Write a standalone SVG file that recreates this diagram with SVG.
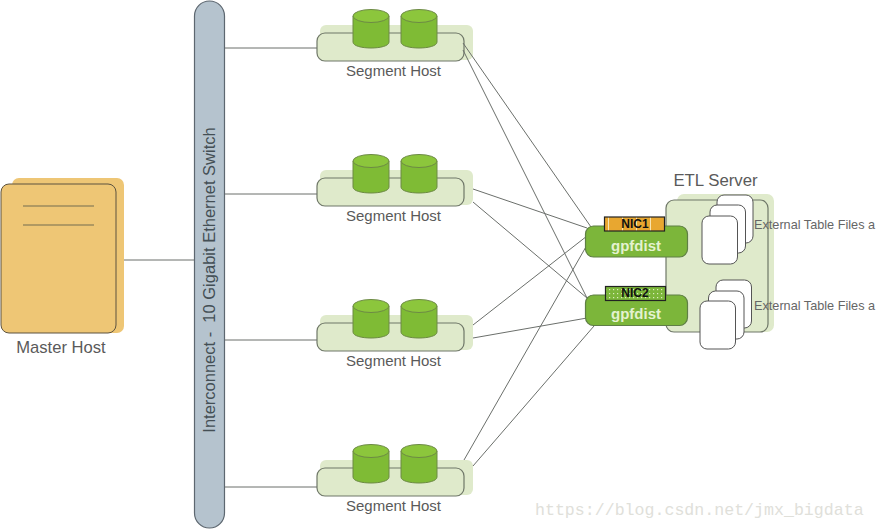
<svg xmlns="http://www.w3.org/2000/svg" width="876" height="529" viewBox="0 0 876 529">
<style>
text{font-family:"Liberation Sans",Arial,sans-serif}
.lbl{fill:#5a5a5a;font-size:15px;text-anchor:middle}
.ln{stroke:#6b6f6b;stroke-width:1;fill:none}
.hb{fill:#dfeacb}
.hf{fill:#dfeacb;stroke:#6f7768;stroke-width:1.2}
.cy{fill:#7fbb35;stroke:#6d8a45;stroke-width:1}
.ct{fill:#8cc63c;stroke:#6d8a45;stroke-width:1}
.gp{fill:#7cb63a;stroke:#5f7f45;stroke-width:1.2}
.gt{fill:#e4f2cf;font-size:15px;font-weight:bold;text-anchor:middle}
.nt{fill:#111;font-size:12px;font-weight:bold;text-anchor:middle}
.fl{fill:#fff;stroke:#555;stroke-width:1}
.ext{fill:#666;font-size:12.7px}
</style>
<defs>
<pattern id="p1" width="14" height="14" patternUnits="userSpaceOnUse"><rect width="14" height="14" fill="#e8a730"/><rect x="6" width="1" height="14" fill="#f8e4b0"/></pattern>
<pattern id="p2" width="4" height="4" patternUnits="userSpaceOnUse"><rect width="4" height="4" fill="#7cb63a"/><rect x="1" y="1" width="1.2" height="1.2" fill="#dcedc0"/></pattern>
<g id="host">
<rect class="hb" x="320" y="25" width="153" height="35" rx="6"/>
<rect class="hf" x="317" y="33" width="147" height="28" rx="8"/>
<path class="cy" d="M353 16V42C353 50 389 50 389 42V16Z"/>
<ellipse class="ct" cx="371" cy="16" rx="18" ry="6.500"/>
<path class="cy" d="M401 16V42C401 50 437 50 437 42V16Z"/>
<ellipse class="ct" cx="419" cy="16" rx="18" ry="6.500"/>
</g>
</defs>
<rect width="876" height="529" fill="#fff"/>
<g id="master">
<rect x="12" y="178" width="112" height="155" rx="7" fill="#eec675"/>
<rect x="1" y="184" width="115" height="149" rx="8" fill="#eec675" stroke="#5c5340" stroke-width="1"/>
<path d="M23 206H94M23 225H94" stroke="#9c8a5c" stroke-width="1.500" fill="none"/>
<text x="61" y="353" fill="#5a5a5a" font-size="16.600" text-anchor="middle">Master Host</text>
</g>
<g id="switch">
<rect x="194.500" y="1" width="30" height="527" rx="15" fill="#b5c3ce" stroke="#5d6770" stroke-width="1.200"/>
<text transform="translate(215,280) rotate(-90)" fill="#444f55" font-size="16.500" text-anchor="middle" xml:space="preserve">Interconnect -  10 Gigabit Ethernet Switch</text>
</g>
<g id="segment-host-1"><use href="#host"/><text class="lbl" x="393.500" y="76">Segment Host</text></g>
<g id="segment-host-2"><use href="#host" y="145"/><text class="lbl" x="393.500" y="221">Segment Host</text></g>
<g id="segment-host-3"><use href="#host" y="290"/><text class="lbl" x="393.500" y="366">Segment Host</text></g>
<g id="segment-host-4"><use href="#host" y="435"/><text class="lbl" x="393.500" y="511">Segment Host</text></g>
<g id="connectors" class="ln">
<path d="M124 260H194"/>
<path d="M225 48H317M225 194H317M225 340H317M225 487H317"/>
<path d="M463 43L591 227M463 50L588 300"/>
<path d="M473 189L587 228M473 202L587 298"/>
<path d="M473 325L587 236M473 338L587 318"/>
<path d="M464 460L587 245M473 466L594 326"/>
<path d="M688 236H702M688 314H700"/>
</g>
<g id="etl-server">
<text x="715.500" y="186" fill="#5a5a5a" font-size="16.800" text-anchor="middle">ETL Server</text>
<rect x="677" y="194" width="97" height="138" rx="7" fill="#dfeacb"/>
<rect x="666" y="200" width="102" height="132" rx="8" fill="#dfeacb" stroke="#6f7768" stroke-width="1.200"/>
</g>
<g id="gpfdist-1">
<rect class="gp" x="585.500" y="226" width="102" height="31" rx="8"/>
<rect x="604.500" y="217" width="60" height="14" fill="url(#p1)" stroke="#222" stroke-width="1.200"/>
<text class="nt" x="635" y="228">NIC1</text>
<text class="gt" x="636" y="251">gpfdist</text>
</g>
<g id="gpfdist-2">
<rect class="gp" x="585.500" y="295" width="102" height="30.500" rx="8"/>
<rect x="605.500" y="286.500" width="60" height="14" fill="url(#p2)" stroke="#222" stroke-width="1.200"/>
<text class="nt" x="635" y="297">NIC2</text>
<text class="gt" x="636" y="319">gpfdist</text>
</g>
<g id="files-1">
<rect class="fl" x="717" y="195" width="36" height="48" rx="7"/>
<rect class="fl" x="710" y="205" width="35.500" height="48" rx="7"/>
<rect class="fl" x="702" y="216" width="35.500" height="48" rx="7"/>
<text class="ext" x="754" y="229">External Table Files a</text>
</g>
<g id="files-2">
<rect class="fl" x="716" y="280" width="35.500" height="48" rx="7"/>
<rect class="fl" x="708.500" y="291" width="35.500" height="48" rx="7"/>
<rect class="fl" x="700" y="301" width="35.500" height="48" rx="7"/>
<text class="ext" x="754" y="310">External Table Files a</text>
</g>
<text x="535" y="515" fill="#e0e0da" font-size="16.600" style="font-family:'Liberation Mono',monospace">https://blog.csdn.net/jmx_bigdata</text>
</svg>
